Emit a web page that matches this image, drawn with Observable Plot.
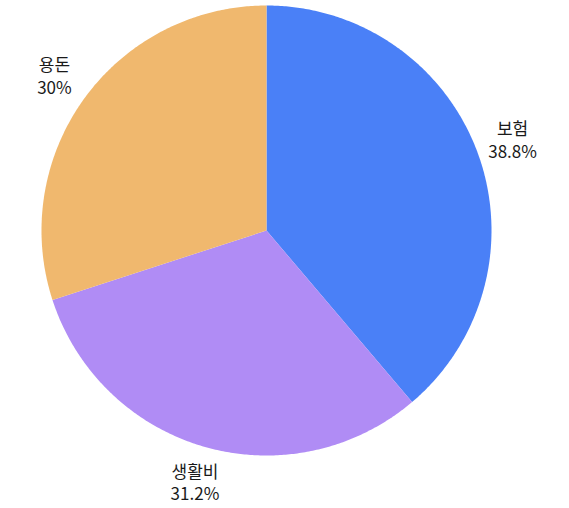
<!DOCTYPE html>
<html>
<head>
<meta charset="utf-8">
<script src="https://cdn.jsdelivr.net/npm/d3@7"></script>
<script src="https://cdn.jsdelivr.net/npm/@observablehq/plot@0.6"></script>
<style>
  html, body { margin: 0; padding: 0; background: #fff; }
  #chart { width: 569px; height: 508px; }
</style>
</head>
<body>
<div id="chart"></div>
<script>
const categories = ["보험", "생활비", "용돈"];
const values = [38.8, 31.2, 30];
const labels = ["38.8%", "31.2%", "30%"];
const colors = ["#4a80f7", "#b08cf5", "#f0b86e"];

const pie = d3.pie().sort(null).value(d => d.value)(
  categories.map((c, i) => ({category: c, value: values[i], label: labels[i]}))
);

const polyPts = [];
const labelPts = [];
const labelR = 1.165;
pie.forEach(s => {
  const c = s.data.category;
  polyPts.push({category: c, x: 0, y: 0});
  const n = Math.max(2, Math.ceil((s.endAngle - s.startAngle) / (Math.PI / 360)));
  for (let k = 0; k <= n; k++) {
    const a = s.startAngle + (s.endAngle - s.startAngle) * k / n;
    polyPts.push({category: c, x: Math.sin(a), y: Math.cos(a)});
  }
  polyPts.push({category: c, x: 0, y: 0});
  const m = (s.startAngle + s.endAngle) / 2;
  labelPts.push({category: c, text: c + "\n" + s.data.label, x: labelR * Math.sin(m), y: labelR * Math.cos(m)});
});

const chart = Plot.plot({
  width: 569,
  height: 508,
  margin: 0,
  style: {fontFamily: "'Noto Sans CJK KR', 'Noto Sans', sans-serif", background: "#fff"},
  x: {domain: [-1, 1], range: [41, 491], axis: null},
  y: {domain: [-1, 1], range: [455, 5], axis: null},
  color: {domain: categories, range: colors},
  marks: [
    Plot.line(polyPts, {x: "x", y: "y", z: "category", fill: "category", stroke: "none", curve: "linear"}),
    Plot.text(labelPts, {x: "x", y: "y", dy: -1, text: "text", fontSize: 17, lineHeight: 1.35, fill: "#1a1a1a", textAnchor: "middle"})
  ]
});
document.getElementById("chart").appendChild(chart);
</script>
</body>
</html>
